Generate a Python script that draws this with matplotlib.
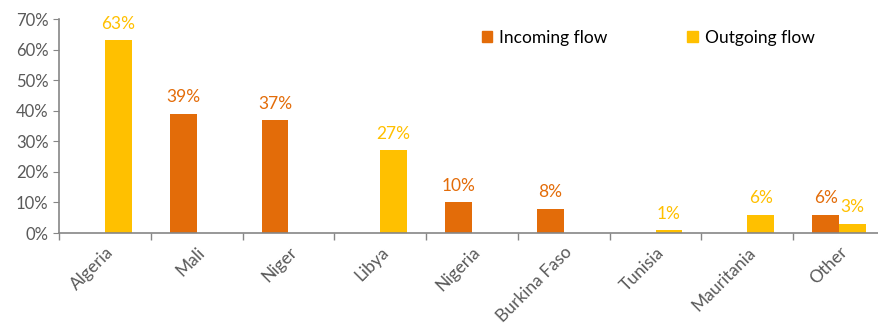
import matplotlib.pyplot as plt
from matplotlib.patches import Patch
import numpy as np

plt.rcParams['font.family'] = ['Lato', 'DejaVu Sans']

countries = ["Algeria", "Mali", "Niger", "Libya", "Nigeria", "Burkina Faso",
             "Tunisia", "Mauritania", "Other"]
incoming = [0, 39, 37, 0, 10, 8, 0, 0, 6]
outgoing = [63, 0, 0, 27, 0, 0, 1, 6, 3]

c_in = "#E36C09"
c_out = "#FFC000"
grey = "#595959"

fig = plt.figure(figsize=(8.79, 3.29), dpi=100)
ax = fig.add_axes([59 / 879, 96 / 329, 826 / 879, 214 / 329])

x = np.arange(len(countries))
w = 0.29
ax.bar(x - w / 2, incoming, w, color=c_in)
ax.bar(x + w / 2, outgoing, w, color=c_out)

# etiquettes des valeurs (seulement les non nulles)
for i in range(len(countries)):
    if incoming[i] > 0:
        ax.annotate(f"{incoming[i]}%", (x[i] - w / 2, incoming[i]), xytext=(0, 6),
                    textcoords="offset points", ha="center", va="bottom",
                    color=c_in, fontsize=12.5)
    if outgoing[i] > 0:
        ax.annotate(f"{outgoing[i]}%", (x[i] + w / 2, outgoing[i]), xytext=(0, 6),
                    textcoords="offset points", ha="center", va="bottom",
                    color=c_out, fontsize=12.5)

ax.set_xlim(-0.5, len(countries) - 0.5)
ax.set_ylim(0, 70)
ax.set_yticks(range(0, 71, 10))
ax.set_yticklabels([f"{v}%" for v in range(0, 71, 10)])

ax.set_xticks(x)
ax.set_xticklabels(countries, rotation=45, ha="right", rotation_mode="anchor")
ax.set_xticks(np.arange(-0.5, len(countries), 1), minor=True)
ax.tick_params(axis="x", which="major", length=0, pad=8, labelsize=12.5, labelcolor=grey)
ax.tick_params(axis="x", which="minor", length=5, color="#868686", width=1)
ax.tick_params(axis="y", length=4, color="#868686", labelsize=12, labelcolor=grey)

for s in ["top", "right"]:
    ax.spines[s].set_visible(False)
for s in ["left", "bottom"]:
    ax.spines[s].set_color("#868686")
    ax.spines[s].set_linewidth(1.2)

handles = [Patch(color=c_in, label="Incoming flow"), Patch(color=c_out, label="Outgoing flow")]
fig.legend(handles=handles, loc="center left", bbox_to_anchor=(466 / 879, 1 - 38 / 329),
           ncol=2, frameon=False, fontsize=12.5, handlelength=0.6, handleheight=0.6,
           handletextpad=0.4, columnspacing=4.6)

fig.savefig("out.png", dpi=100)
